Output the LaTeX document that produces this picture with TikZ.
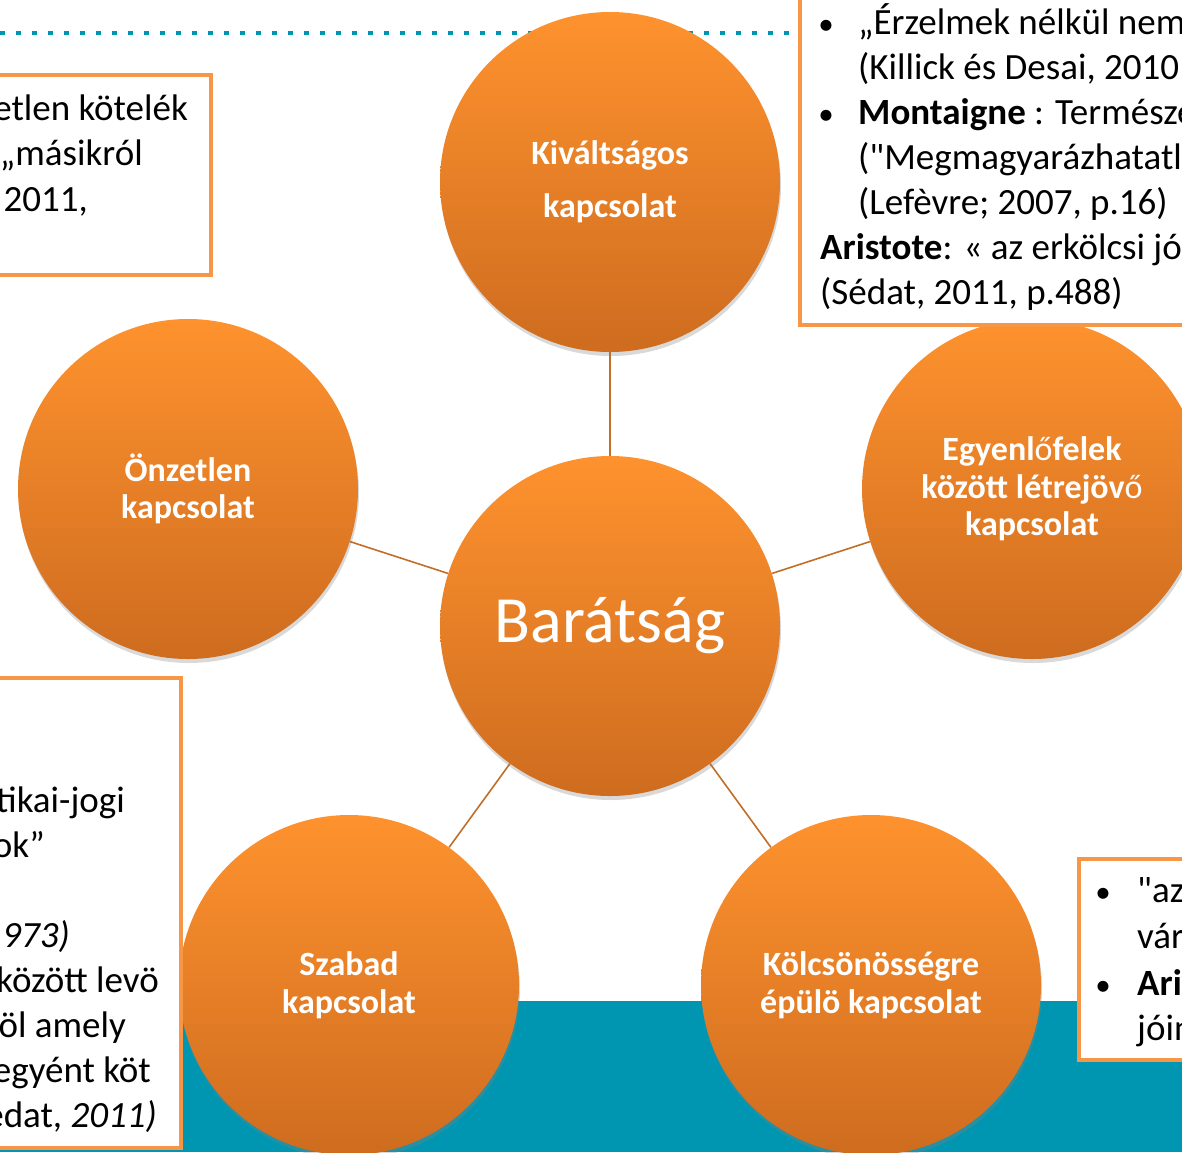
\documentclass[tikz,border=0pt]{standalone}
\usepackage{fontspec}
\setmainfont{Carlito}
\newfontfamily\rawquote{Carlito}
\usetikzlibrary{shadows,backgrounds}

\definecolor{boxorange}{RGB}{247,150,70}
\definecolor{circtop}{RGB}{254,146,46}
\definecolor{circbot}{RGB}{206,108,31}
\definecolor{linkbrown}{RGB}{192,110,40}
\definecolor{seateal}{RGB}{0,150,178}

\begin{document}
\begin{tikzpicture}[x=1pt,y=-1pt,
  bubble/.style={circle,minimum size=340pt,inner sep=0pt,
    top color=circtop,bottom color=circbot,text=white,align=center,
    font=\bfseries\fontsize{34}{37.5}\selectfont,
    drop shadow={opacity=0.3,shadow xshift=1pt,shadow yshift=-4pt}},
  link/.style={draw=linkbrown,line width=1.6pt},
  quote/.style={draw=boxorange,line width=4.5pt,fill=white},
  dotrule/.style={draw=seateal,line width=4pt,dash pattern=on 4.6pt off 11.4pt},
  body/.style={inner sep=0pt,font=\fontsize{37}{45}\selectfont},
  lft/.style={body,anchor=base west},
  rgt/.style={body,anchor=base east},
  dot/.style={body,anchor=base,font=\fontsize{31}{45}\selectfont}]
\useasboundingbox (0,0) rectangle (1182,1152);
\clip (0,0) rectangle (1182,1152);

% sea band and dotted rule
\fill[seateal] (0,1001) rectangle (1182,1152);
\draw[dotrule] (0,33) -- (790,33);

% the five kinds of friendship
\node[bubble,font=\fontsize{66}{70}\selectfont] (hub) at (610,626) {Barátság};
\node[bubble] (privileged) at (610,182) {Kiváltságos\\[15.5pt]kapcsolat};
\node[bubble] (selfless) at (188,489) {Önzetlen\\kapcsolat};
\node[bubble] (equals) at (1032,489) {Egyenl{\mdseries ő}felek\\között létrejöv{\mdseries ő}\\kapcsolat};
\node[bubble] (free) at (349,985) {Szabad\\kapcsolat};
\node[bubble] (mutual) at (871,985) {Kölcsönösségre\\épülö kapcsolat};

\begin{scope}[on background layer]
\draw[link] (hub) -- (privileged);
\draw[link] (hub) -- (selfless);
\draw[link] (hub) -- (equals);
\draw[link] (hub) -- (free);
\draw[link] (hub) -- (mutual);
\end{scope}

% quotation boxes
\draw[quote] (-10,75) rectangle (211,275);
\node[rgt] (tl1) at (188,120) {etlen kötelék};
\node[rgt] (tl2) at (143,165) {„másikról};
\node[rgt] (tl3) at (88,211) {2011,};

\draw[quote] (800,-10) rectangle (1200,325);
\node[dot] (trb1) at (826,34) {•};
\node[lft] (tr1) at (858,34) {„Érzelmek nélkül nem};
\node[lft] (tr2) at (858,79) {(Killick és Desai, 2010};
\node[dot] (trb2) at (826,124) {•};
\node[lft] (tr3) at (858,124) {\textbf{Montaigne} : Természe};
\node[lft] (tr4) at (858,169) {({\rawquote"}Megmagyarázhatatl};
\node[lft] (tr5) at (858,214) {(Lefèvre; 2007, p.16)};
\node[lft] (tr6) at (820,259) {\textbf{Aristote}: « az erkölcsi jó};
\node[lft] (tr7) at (820,304) {(Sédat, 2011, p.488)};

\draw[quote] (-10,678) rectangle (181,1148);
\node[rgt] (bl1) at (125,812) {tikai-jogi};
\node[rgt] (bl2) at (45,857) {ok”};
\node[rgt] (bl3) at (70,947) {\itshape 973)};
\node[rgt] (bl4) at (159,992) {között levö};
\node[rgt] (bl5) at (126,1037) {öl amely};
\node[rgt] (bl6) at (151,1082) {egyént köt};
\node[rgt] (bl7) at (157,1127) {edat, \textit{2011)}};

\draw[quote] (1079,859) rectangle (1200,1060);
\node[dot] (brb1) at (1103,902) {•};
\node[lft] (br1) at (1137,902) {{\rawquote"}az};
\node[lft] (br2) at (1137,948) {vár};
\node[dot] (brb2) at (1103,995) {•};
\node[lft] (br3) at (1137,995) {\textbf{Ari}};
\node[lft] (br4) at (1137,1040) {jóin};
\end{tikzpicture}
\end{document}
